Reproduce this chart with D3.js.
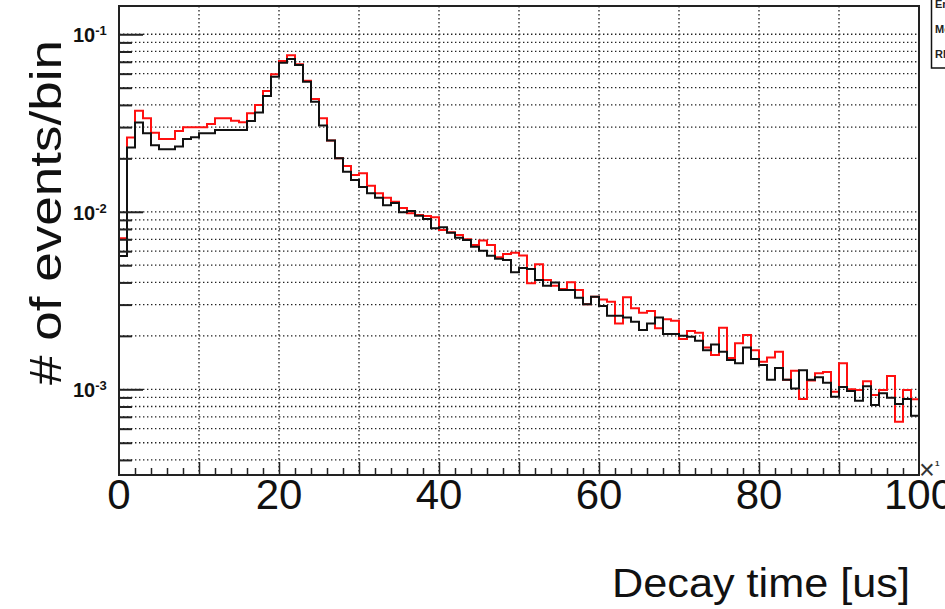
<!DOCTYPE html>
<html>
<head>
<meta charset="utf-8">
<script src="https://cdn.jsdelivr.net/npm/d3@7"></script>
<style>
  html, body { margin: 0; padding: 0; background: #fff; }
  svg { display: block; }
</style>
</head>
<body>
<svg id="chart" width="945" height="609"></svg>
<script>
// 100 bins, 1 us wide, from 0 to 100 us
const binStart = d3.range(0, 100, 1)

const blackCounts = [
  0.00564, 0.0230, 0.0318, 0.0277, 0.0237, 0.0225, 0.0225, 0.0233, 0.0257, 0.0263,
  0.0277, 0.0277, 0.0289, 0.0289, 0.0289, 0.0289, 0.0325, 0.0362, 0.0449, 0.0577,
  0.0692, 0.0726, 0.0671, 0.0541, 0.0417, 0.0306, 0.0252, 0.0200, 0.0168, 0.0151,
  0.0138, 0.0127, 0.0120, 0.0109, 0.0112, 0.00994, 0.0101, 0.00951, 0.00911, 0.00807,
  0.00818, 0.00762, 0.00714, 0.00694, 0.00636, 0.00604, 0.00566, 0.00544, 0.00535, 0.00456,
  0.00483, 0.00476, 0.00413, 0.00383, 0.00399, 0.00363, 0.00363, 0.00328, 0.00301, 0.00332,
  0.00295, 0.00260, 0.00260, 0.00254, 0.00240, 0.00216, 0.00235, 0.00254, 0.00205, 0.00205,
  0.00200, 0.00198, 0.00188, 0.00166, 0.00179, 0.00163, 0.00146, 0.00140, 0.00172, 0.00148,
  0.00137, 0.00113, 0.00132, 0.00113, 0.00101, 0.00128, 0.00113, 0.00117, 0.00109, 0.000908,
  0.00103, 0.000978, 0.000863, 0.00104, 0.000816, 0.000950, 0.000897, 0.000826, 0.000882, 0.000710
]

const redCounts = [
  0.00709, 0.0262, 0.0371, 0.0336, 0.0279, 0.0257, 0.0257, 0.0285, 0.0299, 0.0299,
  0.0299, 0.0312, 0.0336, 0.0336, 0.0326, 0.0319, 0.0359, 0.0400, 0.0479, 0.0595,
  0.0707, 0.0762, 0.0678, 0.0548, 0.0432, 0.0336, 0.0252, 0.0200, 0.0181, 0.0161,
  0.0165, 0.0140, 0.0127, 0.0120, 0.0114, 0.0105, 0.00981, 0.00959, 0.00947, 0.00931,
  0.00790, 0.00766, 0.00740, 0.00700, 0.00650, 0.00688, 0.00650, 0.00554, 0.00578, 0.00588,
  0.00567, 0.00396, 0.00506, 0.00413, 0.00383, 0.00367, 0.00401, 0.00363, 0.00301, 0.00332,
  0.00321, 0.00311, 0.00235, 0.00330, 0.00286, 0.00270, 0.00276, 0.00221, 0.00248, 0.00243,
  0.00192, 0.00213, 0.00208, 0.00172, 0.00156, 0.00222, 0.00150, 0.00182, 0.00202, 0.00166,
  0.00143, 0.00151, 0.00163, 0.00113, 0.00127, 0.000882, 0.00112, 0.00123, 0.00125, 0.00097,
  0.00140, 0.00100, 0.000991, 0.00111, 0.000929, 0.000991, 0.00119, 0.000657, 0.000991, 0.00088
]

const xTickLabels = ['0', '20', '40', '60', '80', '100']
const yDecades = [-1, -2, -3]
const statLines = ['Entries', 'Mean', 'RMS']

const svg = d3.select('#chart')
const plotL = 119, plotR = 919, plotT = 6, plotB = 475

const x = d3.scaleLinear().domain([0, 100]).range([plotL, plotR])
const y = d3.scaleLog().domain([3.29e-4, 0.1443]).range([plotB, plotT])

// grid
const grid = svg.append('g')
  .attr('stroke', '#222')
  .attr('stroke-width', 1.3)
  .attr('stroke-dasharray', '1.4,2.6')
grid.selectAll('.gy')
  .data(y.ticks())
  .enter().append('line')
  .attr('x1', plotL).attr('x2', plotR)
  .attr('y1', d => y(d)).attr('y2', d => y(d))
grid.selectAll('.gx')
  .data(d3.range(10, 100, 10))
  .enter().append('line')
  .attr('x1', d => x(d)).attr('x2', d => x(d))
  .attr('y1', plotT).attr('y2', plotB)

// histograms
const step = d3.line()
  .curve(d3.curveStepAfter)
  .x(d => x(d[0]))
  .y(d => y(d[1]))

const drawHist = (counts, color) => {
  const pts = binStart.map((b, i) => [b, counts[i]])
  pts.push([binStart[binStart.length - 1] + 1, counts[counts.length - 1]])
  svg.append('path')
    .attr('d', step(pts))
    .attr('fill', 'none')
    .attr('stroke', color)
    .attr('stroke-width', 2)
}
drawHist(redCounts, '#ff1010')
drawHist(blackCounts, '#111')

// y ticks (inside, from the left axis)
const isMajor = d => Math.abs(Math.log10(d) - Math.round(Math.log10(d))) < 1e-6
svg.append('g')
  .attr('transform', 'translate(' + plotL + ',0)')
  .call(d3.axisRight(y).tickValues(y.ticks().filter(d => !isMajor(d))).tickSize(13).tickFormat(''))
  .call(g => g.select('.domain').remove())
  .call(g => g.selectAll('line').attr('stroke', '#222').attr('stroke-width', 2))
svg.append('g')
  .attr('transform', 'translate(' + plotL + ',0)')
  .call(d3.axisRight(y).tickValues(yDecades.map(e => Math.pow(10, e))).tickSize(24).tickFormat(''))
  .call(g => g.select('.domain').remove())
  .call(g => g.selectAll('line').attr('stroke', '#222').attr('stroke-width', 2))

// x ticks (inside, from the bottom axis)
svg.append('g')
  .attr('transform', 'translate(0,' + plotB + ')')
  .call(d3.axisTop(x).tickValues(d3.range(2, 100, 2).filter(d => d % 10 !== 0)).tickSize(7).tickFormat(''))
  .call(g => g.select('.domain').remove())
  .call(g => g.selectAll('line').attr('stroke', '#222').attr('stroke-width', 1.5))
svg.append('g')
  .attr('transform', 'translate(0,' + plotB + ')')
  .call(d3.axisTop(x).tickValues(d3.range(10, 100, 10)).tickSize(13).tickFormat(''))
  .call(g => g.select('.domain').remove())
  .call(g => g.selectAll('line').attr('stroke', '#222').attr('stroke-width', 1.5))

// frame
svg.append('rect')
  .attr('x', plotL).attr('y', plotT)
  .attr('width', plotR - plotL).attr('height', plotB - plotT)
  .attr('fill', 'none')
  .attr('stroke', '#222')
  .attr('stroke-width', 2)

// y tick labels 10^-n
const yl = svg.append('g')
  .attr('font-family', 'Liberation Sans, Arial, sans-serif')
  .attr('font-weight', 'bold')
  .attr('fill', '#111')
yDecades.forEach(e => {
  const t = yl.append('text')
    .attr('x', 73)
    .attr('y', y(Math.pow(10, e)) + 8)
    .attr('font-size', 20)
  t.append('tspan').text('10')
  t.append('tspan').attr('dy', -7).attr('font-size', 13).text('-' + (-e))
})

// x tick labels
svg.append('g')
  .selectAll('text')
  .data(xTickLabels)
  .enter().append('text')
  .attr('x', d => x(+d))
  .attr('y', 509)
  .attr('text-anchor', 'middle')
  .attr('font-family', 'Liberation Sans, Arial, sans-serif')
  .attr('font-size', 42)
  .attr('fill', '#111')
  .text(d => d)

// axis titles
svg.append('text')
  .attr('x', 910)
  .attr('y', 597)
  .attr('text-anchor', 'end')
  .attr('font-family', 'Liberation Sans, Arial, sans-serif')
  .attr('font-size', 40)
  .attr('fill', '#111')
  .attr('textLength', 298)
  .attr('lengthAdjust', 'spacingAndGlyphs')
  .text('Decay time [us]')

svg.append('text')
  .attr('transform', 'translate(61,385) rotate(-90)')
  .attr('font-family', 'Liberation Sans, Arial, sans-serif')
  .attr('font-size', 44)
  .attr('fill', '#111')
  .attr('textLength', 345)
  .attr('lengthAdjust', 'spacingAndGlyphs')
  .text('# of events/bin')

// exponent marker at the end of the x axis
svg.append('text')
  .attr('x', 919).attr('y', 479)
  .attr('font-family', 'Liberation Sans, Arial, sans-serif')
  .attr('font-size', 27)
  .attr('fill', '#333')
  .text('×')
svg.append('text')
  .attr('x', 935).attr('y', 466)
  .attr('font-family', 'Liberation Sans, Arial, sans-serif')
  .attr('font-weight', 'bold')
  .attr('font-size', 8)
  .attr('fill', '#333')
  .text('1')

// partially visible stat box
svg.append('rect')
  .attr('x', 931.5).attr('y', -3)
  .attr('width', 40).attr('height', 71)
  .attr('fill', '#fff')
  .attr('stroke', '#111')
  .attr('stroke-width', 1.5)
svg.append('g')
  .selectAll('text')
  .data(statLines)
  .enter().append('text')
  .attr('x', 935)
  .attr('y', (d, i) => 8 + i * 25)
  .attr('font-family', 'Liberation Sans, Arial, sans-serif')
  .attr('font-weight', 'bold')
  .attr('font-size', 11)
  .attr('fill', '#222')
  .text(d => d)
</script>
</body>
</html>
